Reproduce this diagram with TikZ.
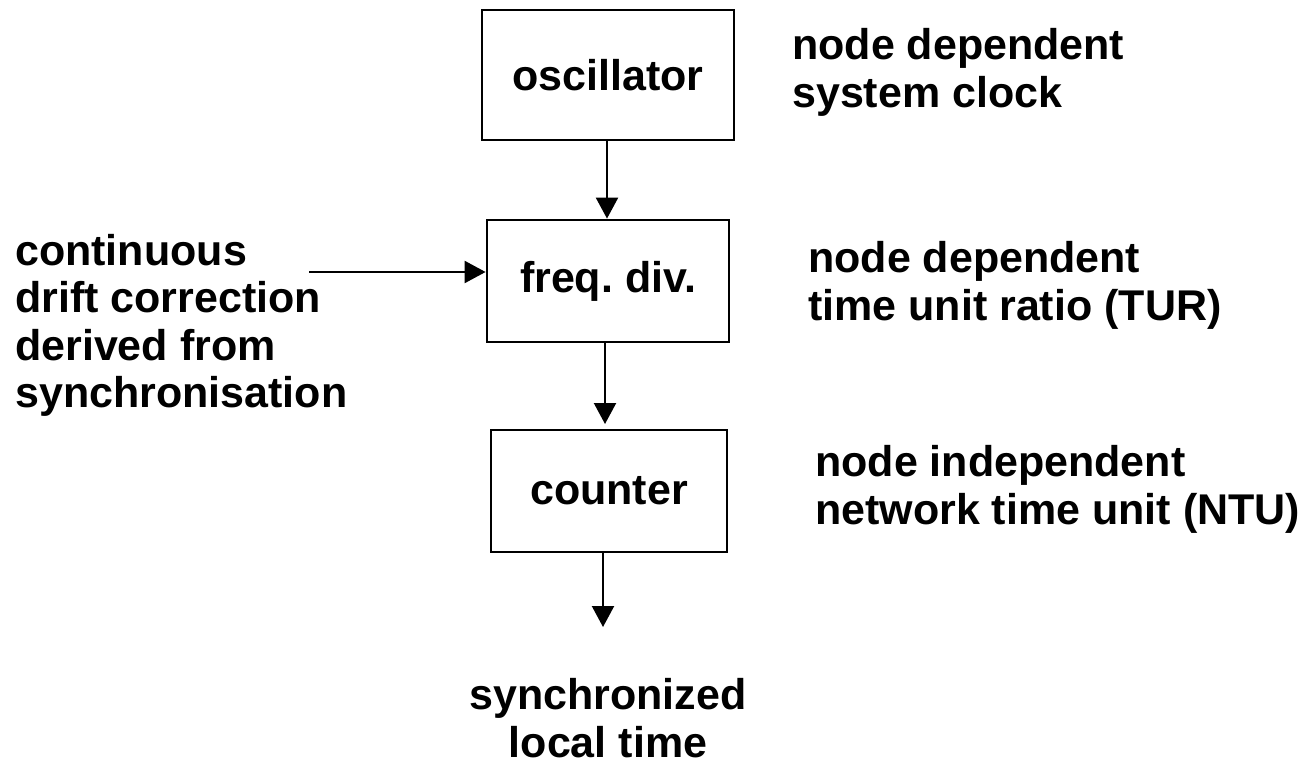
\documentclass[tikz,border=0pt]{standalone}
\usepackage{fontspec}
\setmainfont{Liberation Sans}
\usetikzlibrary{arrows.meta}
\frenchspacing
\begin{document}
\begin{tikzpicture}[x=1pt,y=-1pt,
  every node/.style={font=\fontsize{43}{47.5}\selectfont\bfseries},
  blockbox/.style={draw,line width=2.8pt,inner sep=0pt},
  label/.style={align=left,inner sep=0pt,anchor=base west},
  flow/.style={line width=2.2pt,-{Triangle[width=22pt,length=21pt]}}]
\useasboundingbox (0,0) rectangle (1305,765);
\node[blockbox,minimum width=252pt,minimum height=130pt] (osc) at (608,75) {oscillator};
\node[blockbox,minimum width=242pt,minimum height=122pt] (div) at (608,281) {freq. div.};
\node[blockbox,minimum width=236pt,minimum height=122pt] (cnt) at (609,491) {counter};
% base anchor = baseline of the last line
\node[label] (lt) at (15,407.5) {continuous\\drift correction\\derived from\\synchronisation};
\node[label] (r1) at (792,107) {node dependent\\system clock};
\node[label] (r2) at (808,320) {node dependent\\time unit ratio (TUR)};
\node[label] (r3) at (815,524) {node independent\\network time unit (NTU)};
\node[align=center,inner sep=0pt,anchor=base] (out) at (608,757) {synchronized\\local time};
\coordinate (src) at (309,272);
\coordinate (tip) at (603,627);
\draw[flow] (osc.south -| 607,0) -- (div.north -| 607,0);
\draw[flow] (div.south -| 605,0) -- (605,424);
\draw[flow] (cnt.south -| 603,0) -- (tip);
\draw[flow] (src) -- (src -| div.west);
\end{tikzpicture}
\end{document}
